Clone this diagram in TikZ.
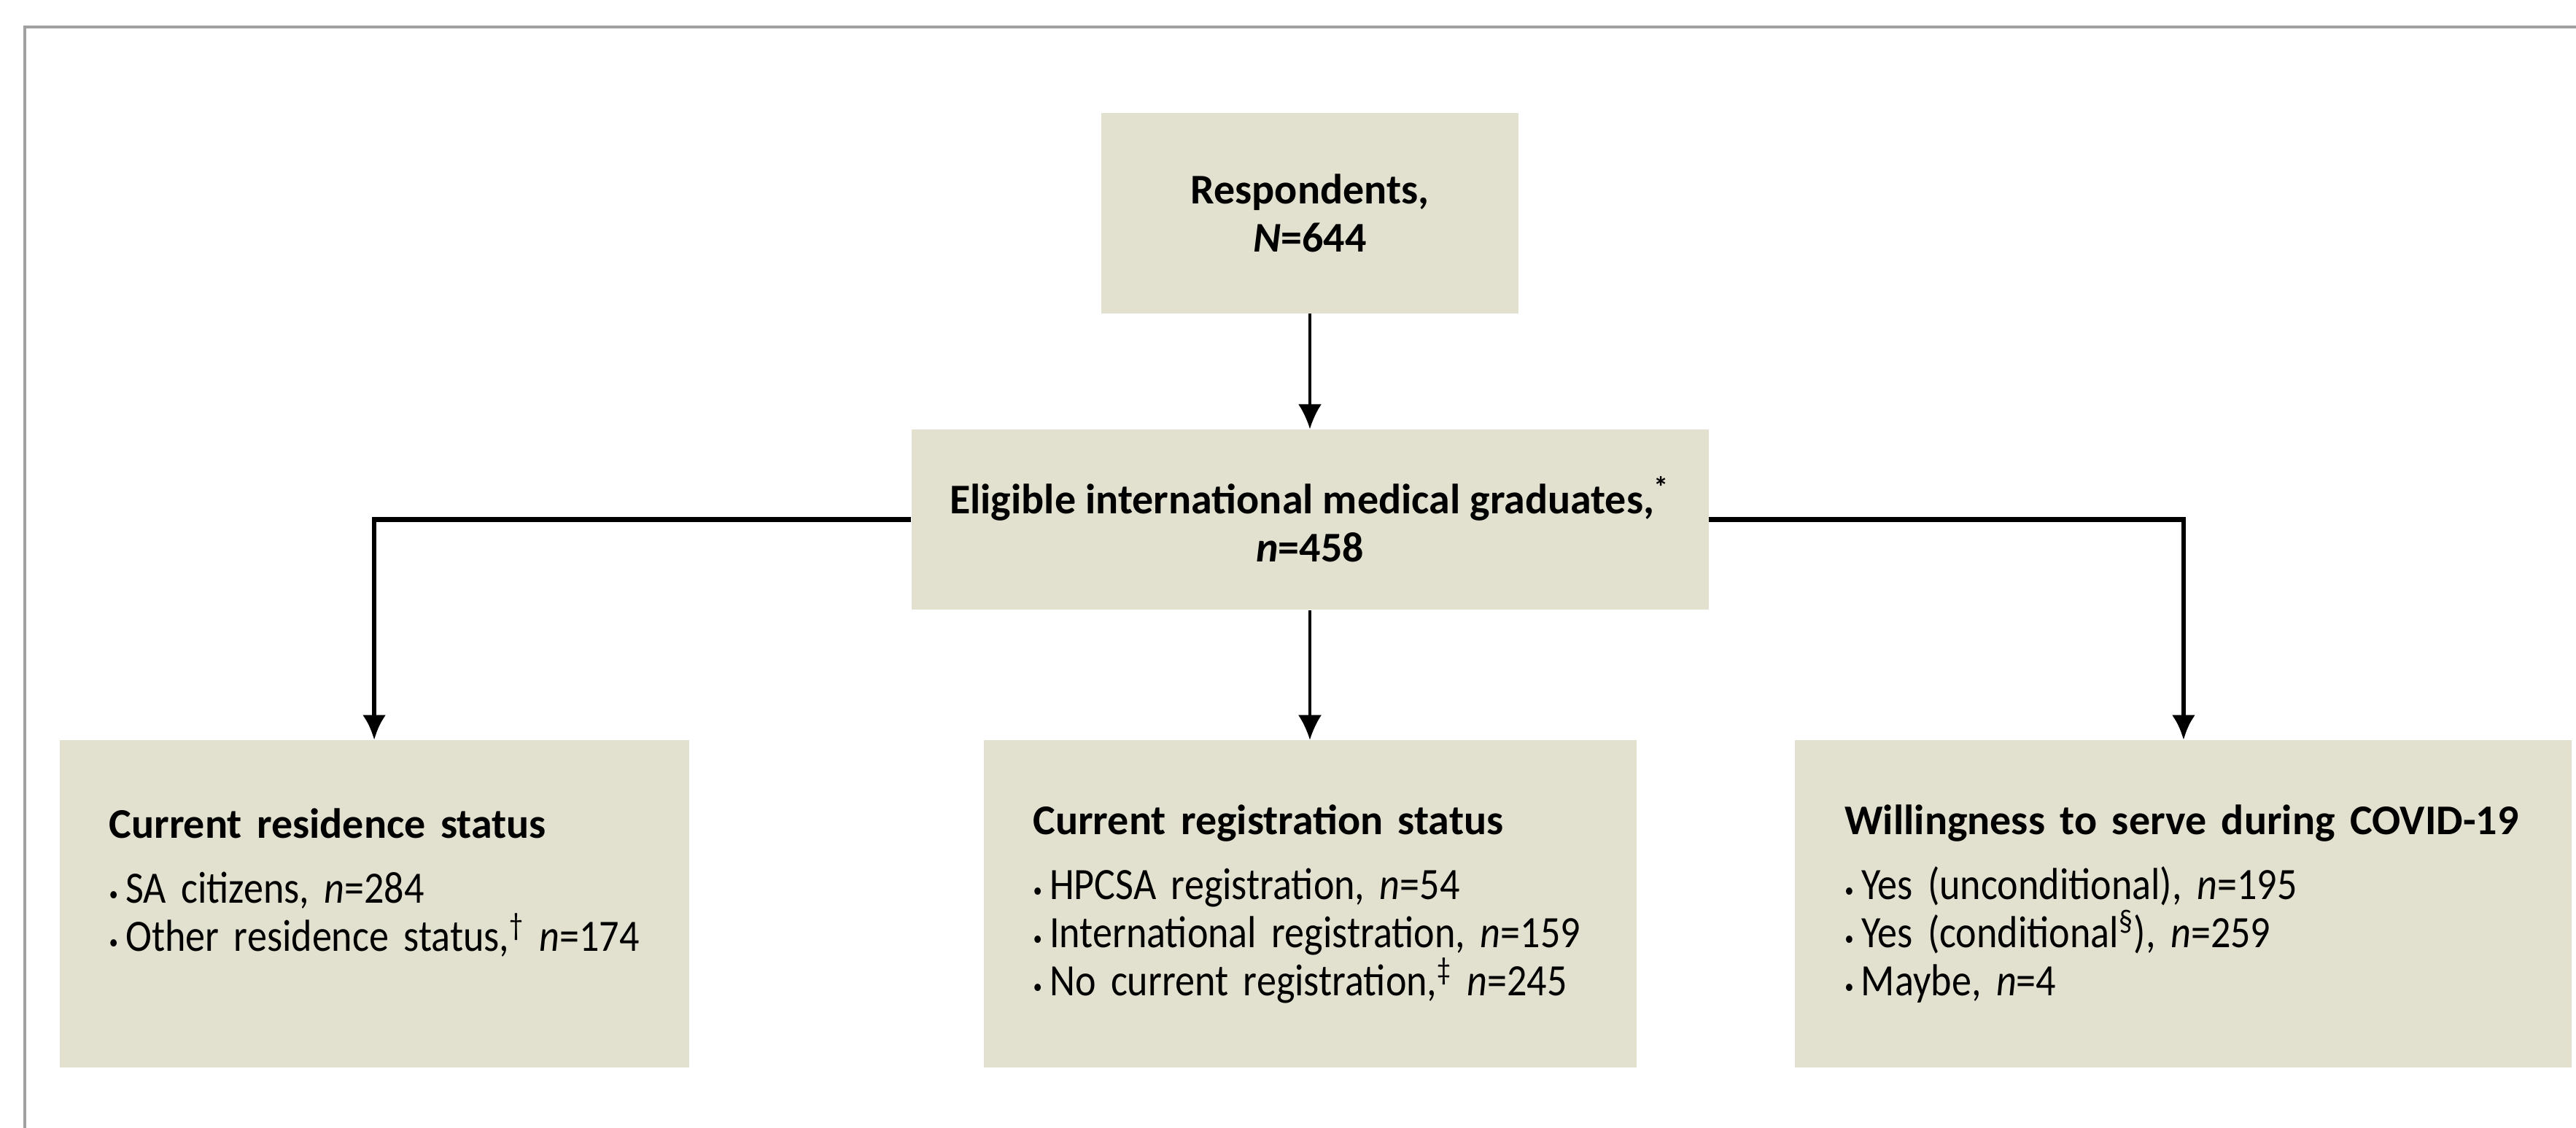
\documentclass[tikz,border=0pt]{standalone}
\usepackage{fontspec}
\setmainfont{Carlito}
\newfontfamily\bodyfont{Carlito}[FakeStretch=0.88]
\usepackage{xcolor}
\usetikzlibrary{positioning,arrows.meta}

\definecolor{boxfill}{RGB}{226,224,207}
\definecolor{framegray}{RGB}{160,160,160}

% small bullet for the lists
\newcommand{\bul}{\raisebox{0.1ex}{\footnotesize\textbullet}\,}

\begin{document}
\begin{tikzpicture}[node distance=1.6cm]
        % Define styles for the nodes
        \tikzstyle{mainbox} = [rectangle, fill=boxfill, align=center, font=\fontsize{16.5}{18.8}\selectfont\bfseries]
        \tikzstyle{statbox} = [rectangle, fill=boxfill, align=left, inner xsep=0.68cm, minimum height=4.49cm, font=\fontsize{17.5}{18.8}\selectfont\bodyfont]
        \tikzstyle{arrow} = [-{Latex[length=3.4mm,width=3.2mm]}, line width=0.9pt]
        \tikzstyle{branch} = [-{Latex[length=3.4mm,width=3.2mm]}, line width=1.8pt]

        % Frame
        \useasboundingbox (0,0) rectangle (35.32,-15.47);
        \draw[framegray, line width=1.4pt] (0.34,-15.47) |- (35.32,-0.37);

        % Nodes
        \node (elig) [mainbox, minimum width=10.93cm, minimum height=2.47cm] at (17.96,-7.125) {Eligible international medical graduates,\textsuperscript{*}\\ \textit{n}=458};
        \node (resp) [mainbox, minimum width=5.72cm, minimum height=2.75cm, above=1.58cm of elig] {Respondents,\\ \textit{N}=644};
        \node (regis) [statbox, text width=7.59cm, below=1.78cm of elig] {{\fontsize{16.5}{18.8}\rmfamily\bfseries Current registration status}\\[0.23cm]
            \bul HPCSA registration, \textit{n}=54\\
            \bul International registration, \textit{n}=159\\
            \bul No current registration,\textsuperscript{‡} \textit{n}=245};
        \node (resid) [statbox, text width=7.27cm, left=4.025cm of regis] {{\fontsize{16.5}{18.8}\rmfamily\bfseries Current residence status}\\[0.23cm]
            \bul SA citizens, \textit{n}=284\\
            \bul Other residence status,\textsuperscript{†} \textit{n}=174\\
            \mbox{}};
        \node (willing) [statbox, text width=9.29cm, right=2.165cm of regis] {\mbox{\fontsize{16.5}{18.8}\rmfamily\bfseries Willingness to serve during COVID-19}\\[0.23cm]
            \bul Yes (unconditional), \textit{n}=195\\
            \bul Yes (conditional\textsuperscript{§}), \textit{n}=259\\
            \bul Maybe, \textit{n}=4};

        % Edges
        \draw [arrow] (resp) -- (elig);
        \draw [arrow] (elig) -- (regis);
        \draw [branch] (elig.west) -| (resid);
        \draw [branch] (elig.east) -| (willing);
    \end{tikzpicture}
\end{document}
